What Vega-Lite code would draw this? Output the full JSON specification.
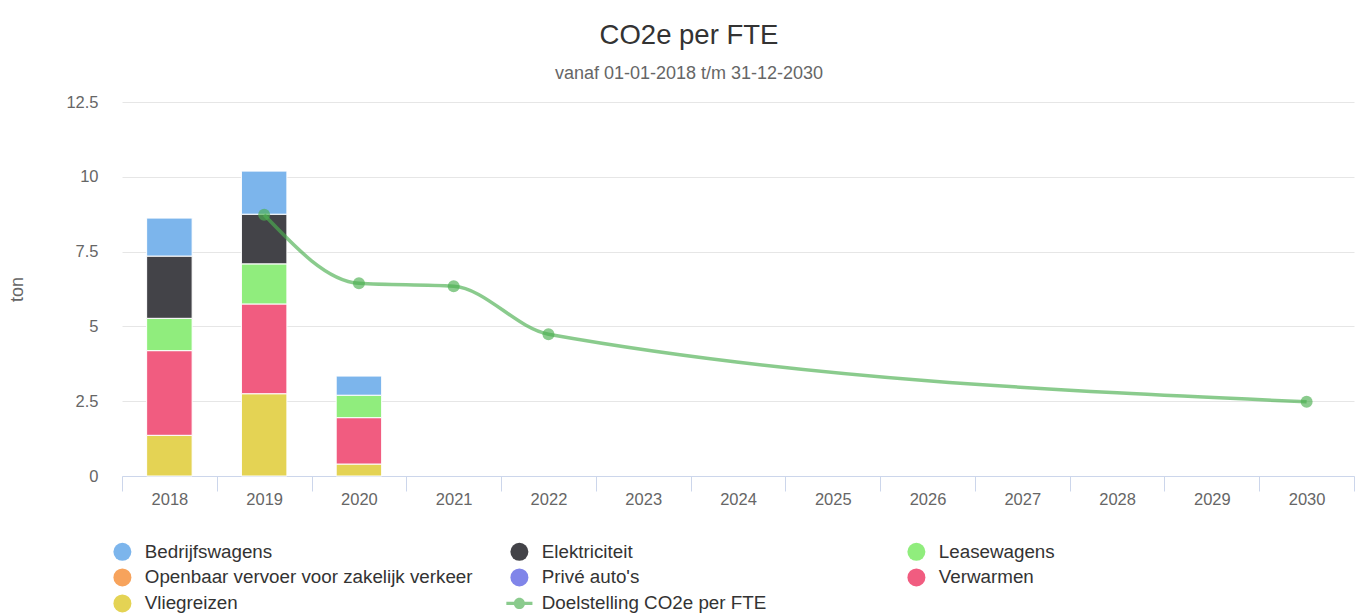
{
  "$schema": "https://vega.github.io/schema/vega-lite/v6.json",
  "width": 1232,
  "height": 374,
  "autosize": "none",
  "padding": {"left": 122, "top": 102, "right": 5, "bottom": 139},
  "background": "white",
  "title": {
    "text": "CO2e per FTE",
    "subtitle": "vanaf 01-01-2018 t/m 31-12-2030",
    "anchor": "middle",
    "dx": -49,
    "offset": 11,
    "fontSize": 27.5,
    "fontWeight": "normal",
    "color": "#333333",
    "subtitleFontSize": 18,
    "subtitleColor": "#666666",
    "subtitlePadding": 16,
    "font": "Liberation Sans",
    "subtitleFont": "Liberation Sans"
  },
  "data": {
    "values": [
      {"jaar": "2018", "serie": "Vliegreizen", "volgorde": 1, "waarde": 1.36},
      {"jaar": "2018", "serie": "Verwarmen", "volgorde": 2, "waarde": 2.83},
      {"jaar": "2018", "serie": "Leasewagens", "volgorde": 5, "waarde": 1.08},
      {"jaar": "2018", "serie": "Elektriciteit", "volgorde": 6, "waarde": 2.08},
      {"jaar": "2018", "serie": "Bedrijfswagens", "volgorde": 7, "waarde": 1.27},
      {"jaar": "2019", "serie": "Vliegreizen", "volgorde": 1, "waarde": 2.75},
      {"jaar": "2019", "serie": "Verwarmen", "volgorde": 2, "waarde": 3.0},
      {"jaar": "2019", "serie": "Leasewagens", "volgorde": 5, "waarde": 1.34},
      {"jaar": "2019", "serie": "Elektriciteit", "volgorde": 6, "waarde": 1.66},
      {"jaar": "2019", "serie": "Bedrijfswagens", "volgorde": 7, "waarde": 1.44},
      {"jaar": "2020", "serie": "Vliegreizen", "volgorde": 1, "waarde": 0.4},
      {"jaar": "2020", "serie": "Verwarmen", "volgorde": 2, "waarde": 1.55},
      {"jaar": "2020", "serie": "Leasewagens", "volgorde": 5, "waarde": 0.75},
      {"jaar": "2020", "serie": "Bedrijfswagens", "volgorde": 7, "waarde": 0.64},
      {"jaar": "2019", "serie": "Doelstelling CO2e per FTE", "volgorde": 8, "doel": 8.73},
      {"jaar": "2020", "serie": "Doelstelling CO2e per FTE", "volgorde": 8, "doel": 6.44},
      {"jaar": "2021", "serie": "Doelstelling CO2e per FTE", "volgorde": 8, "doel": 6.34},
      {"jaar": "2022", "serie": "Doelstelling CO2e per FTE", "volgorde": 8, "doel": 4.74},
      {"jaar": "2030", "serie": "Doelstelling CO2e per FTE", "volgorde": 8, "doel": 2.48}
    ]
  },
  "encoding": {
    "x": {
      "field": "jaar",
      "type": "ordinal",
      "sort": null,
      "scale": {"domain": ["2018","2019","2020","2021","2022","2023","2024","2025","2026","2027","2028","2029","2030"], "paddingInner": 0, "paddingOuter": 0},
      "axis": {
        "title": null,
        "labelAngle": 0,
        "tickBand": "extent",
        "tickSize": 15,
        "tickColor": "#ccd6eb",
        "domainColor": "#ccd6eb",
        "labelFontSize": 16.5,
        "labelColor": "#666666",
        "labelFont": "Liberation Sans",
        "labelPadding": 0,
        "grid": false
      }
    },
    "color": {
      "field": "serie",
      "type": "nominal",
      "scale": {
        "domain": ["Bedrijfswagens", "Openbaar vervoer voor zakelijk verkeer", "Vliegreizen", "Elektriciteit", "Privé auto's", "Doelstelling CO2e per FTE", "Leasewagens", "Verwarmen"],
        "range": ["#7cb5ec", "#f7a35c", "#e4d354", "#434348", "#8085e9", "#4caf50", "#90ed7d", "#f15c80"]
      },
      "legend": {
        "title": null,
        "orient": "none",
        "legendX": -9,
        "legendY": 440,
        "columns": 3,
        "columnPadding": 33,
        "rowPadding": 6,
        "gridAlign": "all",
        "symbolType": "circle",
        "symbolSize": 324,
        "symbolStrokeWidth": 0,
        "symbolOpacity": 1,
        "labelFontSize": 18.8,
        "labelColor": "#333333",
        "labelFont": "Liberation Sans",
        "labelLimit": 420,
        "labelOffset": 13,
        "encode": {
          "symbols": {
            "update": {
              "shape": {"signal": "datum.value === 'Doelstelling CO2e per FTE' ? 'M-1.45,-0.18H1.45V0.18H-1.45Z M-0.62,0A0.62,0.62 0 1,1 0.62,0A0.62,0.62 0 1,1 -0.62,0Z' : 'circle'"},
              "fill": {"scale": "color", "field": "value"},
              "fillOpacity": {"signal": "datum.value === 'Doelstelling CO2e per FTE' ? 0.65 : 1"},
              "stroke": {"value": "transparent"},
              "strokeWidth": {"value": 0}
            }
          }
        }
      }
    }
  },
  "layer": [
    {
      "transform": [{"filter": "datum.doel == null"}],
      "mark": {"type": "bar", "width": {"band": 0.48}, "stroke": "white", "strokeWidth": 1},
      "encoding": {
        "y": {
          "field": "waarde",
          "type": "quantitative",
          "stack": "zero",
          "scale": {"domain": [0, 12.5], "nice": false},
          "axis": {
            "title": "ton",
            "titleFontSize": 18,
            "titleFontWeight": "normal",
            "titleColor": "#666666",
            "titleFont": "Liberation Sans",
            "titleX": -105,
            "titleY": 187,
            "titleAngle": -90,
            "titleAlign": "center",
            "titleBaseline": "middle",
            "values": [0, 2.5, 5, 7.5, 10, 12.5],
            "labelExpr": "toString(datum.value)",
            "grid": true,
            "gridColor": "#e6e6e6",
            "domain": false,
            "ticks": false,
            "labelPadding": 24,
            "labelFontSize": 16.5,
            "labelColor": "#666666",
            "labelFont": "Liberation Sans"
          }
        },
        "order": {"field": "volgorde", "type": "quantitative"}
      }
    },
    {
      "transform": [{"filter": "datum.doel != null"}],
      "mark": {"type": "line", "interpolate": "monotone", "strokeWidth": 3.5, "opacity": 0.65},
      "encoding": {
        "y": {"field": "doel", "type": "quantitative"}
      }
    },
    {
      "transform": [{"filter": "datum.doel != null"}],
      "mark": {"type": "point", "filled": true, "shape": "circle", "size": 144, "opacity": 0.65},
      "encoding": {
        "y": {"field": "doel", "type": "quantitative"}
      }
    }
  ],
  "config": {
    "view": {"stroke": null},
    "font": "Liberation Sans"
  }
}
